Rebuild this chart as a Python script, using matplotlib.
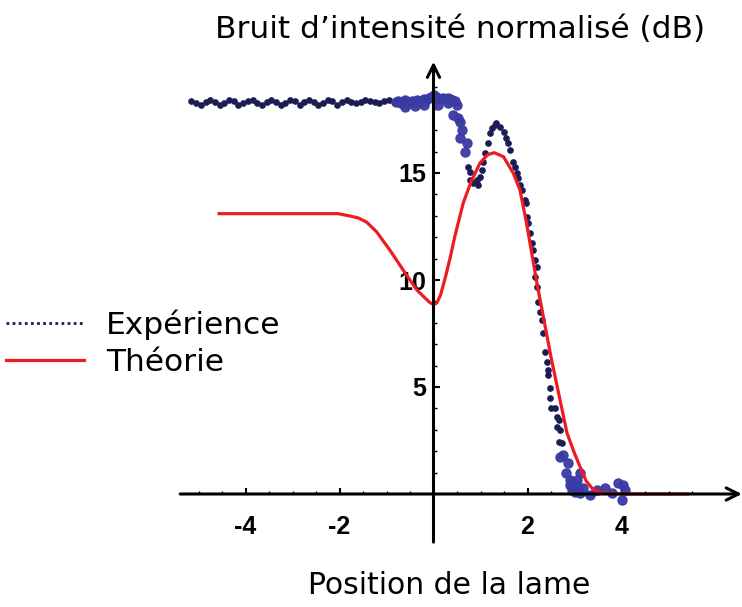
import numpy as np
import matplotlib.pyplot as plt
from matplotlib.lines import Line2D

plt.rcParams['axes.unicode_minus'] = False

# measured noise, plateau before the blade enters the beam (small dark points)
plateau_x = [-5.15, -5.05, -4.95, -4.85, -4.75, -4.65, -4.55, -4.45, -4.35, -4.25,
             -4.15, -4.05, -3.95, -3.85, -3.75, -3.65, -3.55, -3.45, -3.35, -3.25,
             -3.15, -3.05, -2.95, -2.85, -2.75, -2.65, -2.55, -2.45, -2.35, -2.25,
             -2.15, -2.05, -1.95, -1.85, -1.75, -1.65, -1.55, -1.45, -1.35, -1.25,
             -1.15, -1.05, -0.95, -0.85]
plateau_y = [18.35, 18.25, 18.2, 18.3, 18.4, 18.3, 18.2, 18.25, 18.4, 18.35,
             18.2, 18.25, 18.35, 18.4, 18.25, 18.2, 18.3, 18.4, 18.3, 18.2,
             18.25, 18.4, 18.35, 18.2, 18.3, 18.4, 18.3, 18.2, 18.25, 18.4,
             18.35, 18.2, 18.3, 18.4, 18.3, 18.25, 18.3, 18.4, 18.35, 18.3,
             18.25, 18.35, 18.4, 18.3]

# measured noise, dense points around the origin and on the tail (large blue points)
dense_x = [-0.8, -0.75, -0.7, -0.65, -0.6, -0.55, -0.5, -0.45, -0.4, -0.35,
           -0.3, -0.25, -0.2, -0.15, -0.1, -0.05, 0.0, 0.05, 0.1, 0.15,
           0.2, 0.25, 0.3, 0.35, 0.4, 0.45, 0.5, -0.6, -0.4, -0.2, 0.1, 0.3,
           0.42, 0.53, 0.56, 0.6, 0.56, 0.71, 0.67,
           2.69, 2.76, 2.87, 2.82, 2.9, 2.97, 3.05, 3.12, 3.08, 3.19, 3.33,
           3.47, 3.65, 3.79, 3.93, 4.04, 4.0, 4.07, 3.12, 2.9, 2.95, 3.0]
dense_y = [18.3, 18.35, 18.25, 18.3, 18.4, 18.3, 18.25, 18.35, 18.3, 18.4,
           18.3, 18.35, 18.45, 18.4, 18.5, 18.55, 18.65, 18.55, 18.5, 18.45,
           18.5, 18.45, 18.5, 18.45, 18.4, 18.35, 18.2, 18.1, 18.15, 18.2, 18.2, 18.25,
           17.71, 17.55, 17.4, 17.0, 16.62, 16.39, 16.0,
           1.74, 1.82, 1.43, 0.97, 0.65, 0.5, 0.65, 0.97, 0.34, 0.26, -0.05,
           0.19, 0.26, 0.03, 0.5, 0.42, -0.28, 0.19, 0.03, 0.42, 0.2, 0.1]

# measured noise, dip / peak / falling edge (small dark points)
edge_x = [0.74, 0.78, 0.78, 0.85, 0.95, 0.92, 0.99, 1.03, 1.06, 1.10,
          1.17, 1.20, 1.24, 1.31, 1.34, 1.41, 1.49, 1.54, 1.59, 1.63,
          1.70, 1.73, 1.77, 1.80, 1.84, 1.88, 1.95, 1.97, 1.98, 2.02,
          2.05, 2.09, 2.12, 2.16, 2.20, 2.16, 2.20, 2.23, 2.27, 2.30,
          2.32, 2.37, 2.41, 2.44, 2.44, 2.48, 2.48, 2.51, 2.59, 2.62,
          2.66, 2.62, 2.69, 2.68, 2.73]
edge_y = [15.3, 15.06, 14.67, 14.52, 14.44, 14.67, 14.83, 15.14, 15.53, 15.92,
          16.39, 16.86, 17.09, 17.24, 17.32, 17.16, 16.93, 16.62, 16.39, 16.07,
          15.53, 15.29, 14.99, 14.75, 14.44, 14.21, 13.74, 13.58, 12.96, 12.65,
          12.18, 11.71, 11.4, 10.93, 10.62, 10.15, 9.69, 8.99, 8.52, 8.13,
          7.51, 6.65, 6.18, 5.79, 5.56, 4.94, 4.47, 4.0, 4.0, 3.61,
          3.46, 3.14, 2.99, 2.44, 2.37]

# model curve
theory_x = [-4.56, -2.03, -1.8, -1.6, -1.42, -1.21, -0.93, -0.64, -0.36, -0.2,
            -0.08, 0.0, 0.07, 0.15, 0.25, 0.35, 0.45, 0.63, 0.8, 0.99, 1.15, 1.29, 1.49,
            1.7, 1.84, 1.98, 2.2, 2.5, 2.84, 3.0, 3.12, 3.25, 3.4, 3.6, 4.0, 5.4]
theory_y = [13.1, 13.1, 13.0, 12.9, 12.7, 12.25, 11.4, 10.45, 9.55, 9.2,
            8.95, 8.85, 8.92, 9.3, 10.1, 11.0, 12.0, 13.58, 14.6, 15.47, 15.85, 15.95, 15.76,
            14.98, 14.2, 12.65, 9.86, 6.4, 2.85, 1.9, 1.26, 0.6, 0.2, 0.05, 0.0, 0.0]

x_ticks = [-4, -2, 2, 4]
y_ticks = [5, 10, 15]

navy = '#1c1c55'
blue = '#3a3aa4'
red = '#ee1c22'

fig = plt.figure(figsize=(7.42, 6.07), dpi=100)
ax = fig.add_axes([0, 0, 1, 1])
ax.set_xlim(-433.5 / 47, (742 - 433.5) / 47)
ax.set_ylim(-113 / 21.4, 494 / 21.4)

ax.plot(plateau_x, plateau_y, 'o', ms=3.8, color=navy, mec=navy)
ax.plot(dense_x, dense_y, 'o', ms=6.5, color=blue, mec=blue, alpha=0.95)
ax.plot(edge_x, edge_y, 'o', ms=3.8, color=navy, mec=navy)
ax.plot(theory_x, theory_y, '-', color=red, lw=2.3)

# axes through the origin, drawn as arrows
for s in ax.spines.values():
    s.set_visible(False)
ax.spines['left'].set_position('zero')
ax.spines['bottom'].set_position('zero')
ax.annotate('', xy=(6.56, 0), xytext=(-5.39, 0),
            arrowprops=dict(arrowstyle='->', lw=2.2, color='black', shrinkA=0, shrinkB=0,
                            mutation_scale=22))
ax.annotate('', xy=(0, 20.2), xytext=(0, -2.25),
            arrowprops=dict(arrowstyle='->', lw=2.2, color='black', shrinkA=0, shrinkB=0,
                            mutation_scale=22))

ax.set_xticks(x_ticks)
ax.set_yticks(y_ticks)
ax.set_xticks([v / 2 for v in range(-10, 13) if v % 4 != 0], minor=True)
ax.set_yticks([v for v in range(1, 20) if v % 5 != 0], minor=True)
ax.tick_params(axis='both', which='major', direction='in', length=4, width=1.5,
               labelsize=18)
ax.tick_params(axis='both', which='minor', direction='in', length=2, width=1)
ax.tick_params(axis='x', which='major', pad=15)
ax.tick_params(axis='y', which='major', pad=5)
for lab in ax.get_xticklabels() + ax.get_yticklabels():
    lab.set_fontweight('bold')
    lab.set_family('Liberation Sans')

fig.text(460 / 742, 1 - 30 / 607, "Bruit d\u2019intensité normalisé (dB)",
         ha='center', va='center', fontsize=22.5)
fig.text(449 / 742, 1 - 585 / 607, "Position de la lame",
         ha='center', va='center', fontsize=21.5)

handles = [Line2D([], [], color=navy, lw=2, ls=(0, (1, 1.2))),
           Line2D([], [], color=red, lw=2.3)]
fig.legend(handles, ['Expérience', 'Théorie'], loc='center left',
           bbox_to_anchor=(0.0, 1 - 343 / 607), frameon=False, fontsize=22.5,
           handlelength=2.5, handletextpad=0.7, labelspacing=0.25,
           borderaxespad=0.0, borderpad=0.2)

fig.savefig('out.png', dpi=100)
